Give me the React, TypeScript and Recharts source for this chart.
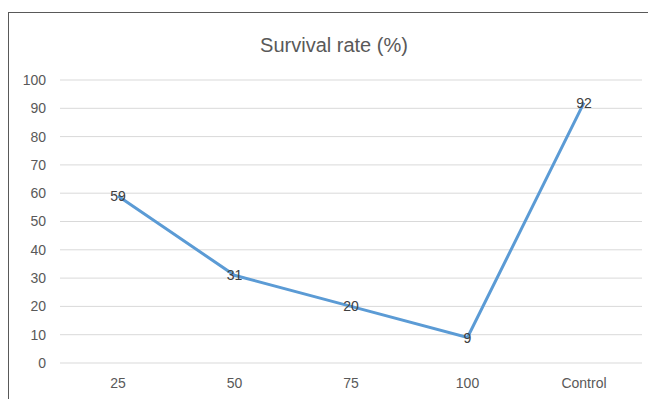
import { LineChart, Line, XAxis, YAxis, CartesianGrid, LabelList } from 'recharts';

const categories = ['25', '50', '75', '100', 'Control'];
const survivalRate = [59, 31, 20, 9, 92];
const yTicks = [0, 10, 20, 30, 40, 50, 60, 70, 80, 90, 100];

const data = categories.map((name, i) => ({ name, value: survivalRate[i] }));

const FONT = '"Liberation Sans", Arial, sans-serif';

export default function App() {
  return (
    <div
      style={{
        position: 'relative',
        marginTop: 4,
        width: 648,
        height: 400,
        overflow: 'hidden',
        borderTop: '1px solid #595959',
        borderLeft: '1px solid #595959',
        boxSizing: 'border-box',
        background: '#fff',
        fontFamily: FONT,
      }}
    >
      <div
        style={{
          position: 'absolute',
          top: 22,
          left: 0,
          width: 650,
          textAlign: 'center',
          fontSize: 20,
          lineHeight: '20px',
          color: '#595959',
        }}
      >
        Survival rate (%)
      </div>
      <LineChart
        width={648}
        height={398}
        data={data}
        margin={{ top: 67, right: 15, left: 0, bottom: 18 }}
      >
        <CartesianGrid vertical={false} stroke="#d9d9d9" />
        <XAxis
          dataKey="name"
          axisLine={false}
          tickLine={false}
          tickSize={0}
          tickMargin={15}
          height={30}
          padding={{ left: 58, right: 58 }}
          tick={{ fill: '#595959', fontSize: 14, fontFamily: FONT }}
        />
        <YAxis
          domain={[0, 100]}
          ticks={yTicks}
          width={51}
          axisLine={false}
          tickLine={false}
          tickSize={0}
          tickMargin={14}
          tick={{ fill: '#595959', fontSize: 14, fontFamily: FONT }}
        />
        <Line
          dataKey="value"
          stroke="#5B9BD5"
          strokeWidth={3}
          dot={false}
          isAnimationActive={false}
        >
          <LabelList
            dataKey="value"
            position="center"
            fill="#404040"
            fontSize={14}
            fontFamily={FONT}
          />
        </Line>
      </LineChart>
    </div>
  );
}
